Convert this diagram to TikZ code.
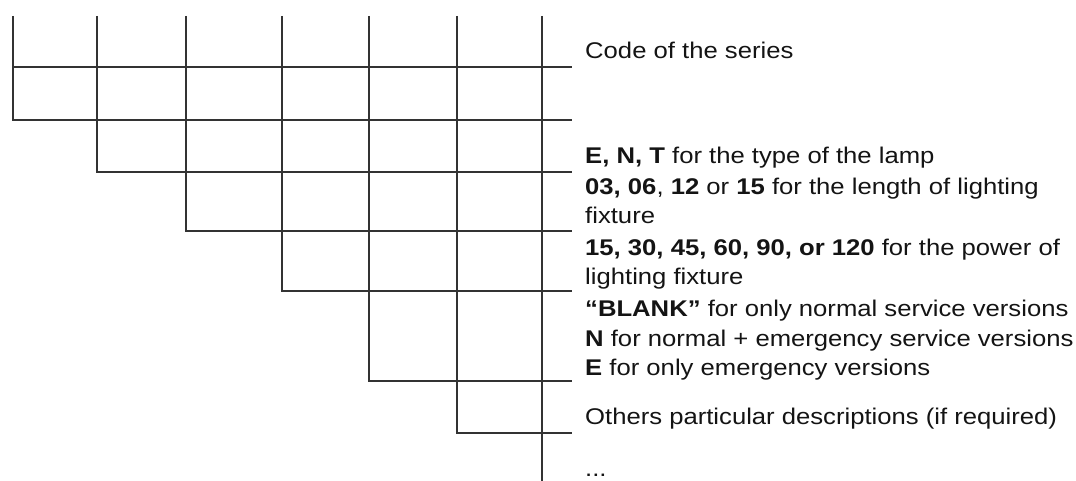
\documentclass[tikz,border=0pt]{standalone}
\usepackage{fontspec}
\setmainfont[FakeStretch=1.13]{Liberation Sans}
\begin{document}
\begin{tikzpicture}[x=1pt,y=-1pt,
  conn/.style={draw=black!80, line width=1.3pt},
  lbl/.style={anchor=base west, inner sep=0pt, text=black!92, font=\fontsize{22.7}{30}\selectfont}]
\useasboundingbox (0,0) rectangle (1076,481);
% tops of the vertical lines
\coordinate (t1) at (13,16);
\coordinate (t2) at (97,16);
\coordinate (t3) at (186,16);
\coordinate (t4) at (282,16);
\coordinate (t5) at (369,16);
\coordinate (t6) at (457,16);
\coordinate (t7) at (542,16);
% corners
\coordinate (c0) at (13,67);
\coordinate (c1) at (13,120);
\coordinate (c2) at (97,172);
\coordinate (c3) at (186,231);
\coordinate (c4) at (282,291);
\coordinate (c5) at (369,381);
\coordinate (c6) at (457,433);
\coordinate (c7) at (542,481);
% right ends
\coordinate (e0) at (572,67);
\coordinate (e1) at (572,120);
\coordinate (e2) at (572,172);
\coordinate (e3) at (572,231);
\coordinate (e4) at (572,291);
\coordinate (e5) at (572,381);
\coordinate (e6) at (572,433);
% connectors
\draw[conn] (c0) -- (e0);
\draw[conn] (t1) -- (c1) -- (e1);
\draw[conn] (t2) -- (c2) -- (e2);
\draw[conn] (t3) -- (c3) -- (e3);
\draw[conn] (t4) -- (c4) -- (e4);
\draw[conn] (t5) -- (c5) -- (e5);
\draw[conn] (t6) -- (c6) -- (e6);
\draw[conn] (t7) -- (c7);
% labels
\node[lbl] (l1) at (585,59) {Code of the series};
\node[lbl] (l2) at (585,164) {\textbf{E, N, T} for the type of the lamp};
\node[lbl] (l3) at (585,195) {\textbf{03, 06}, \textbf{12} or \textbf{15} for the length of lighting};
\node[lbl] (l4) at (585,223) {fixture};
\node[lbl] (l5) at (585,255) {\textbf{15, 30, 45, 60, 90, or 120} for the power of};
\node[lbl] (l6) at (585,284) {lighting fixture};
\node[lbl] (l7) at (585,316) {\textbf{“BLANK”} for only normal service versions};
\node[lbl] (l8) at (585,346) {\textbf{N} for normal + emergency service versions};
\node[lbl] (l9) at (585,375) {\textbf{E} for only emergency versions};
\node[lbl] (l10) at (585,424) {Others particular descriptions (if required)};
\node[lbl] (l11) at (585,476) {...};
\end{tikzpicture}
\end{document}
